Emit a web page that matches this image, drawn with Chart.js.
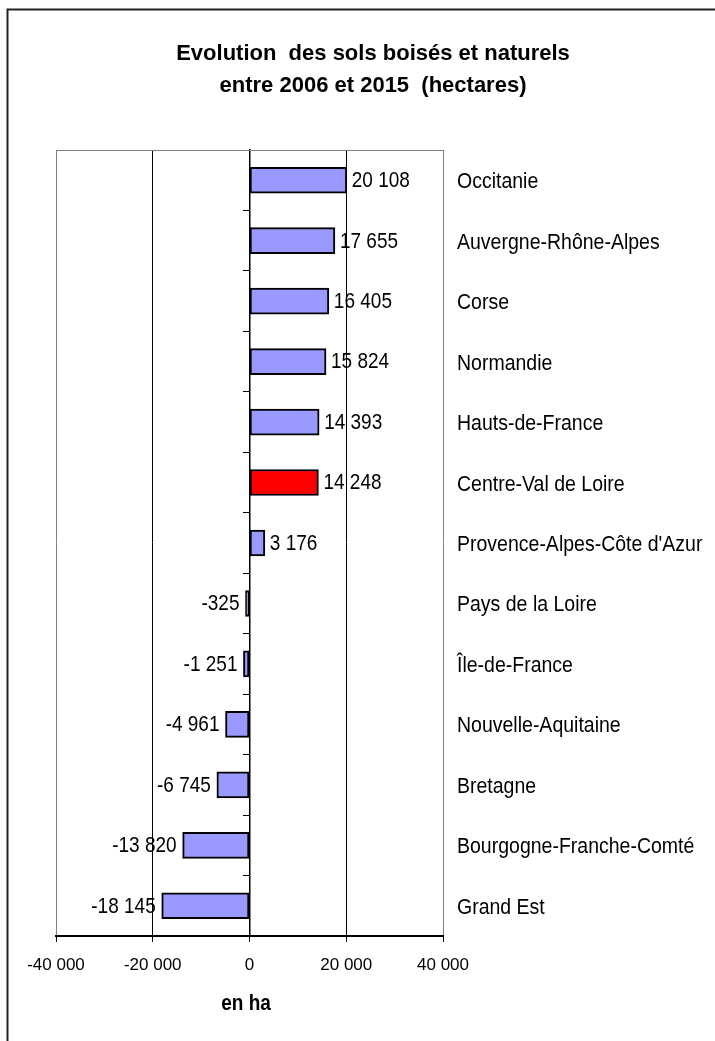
<!DOCTYPE html>
<html>
<head>
<meta charset="utf-8">
<script src="https://cdn.jsdelivr.net/npm/chart.js@4.4.1/dist/chart.umd.min.js"></script>
<style>
  html, body { margin: 0; padding: 0; background: #fff; }
  canvas { display: block; }
</style>
</head>
<body>
<canvas id="chart" width="715" height="1041"></canvas>
<script>
// data
const regions = ['Occitanie', 'Auvergne-Rhône-Alpes', 'Corse', 'Normandie', 'Hauts-de-France',
  'Centre-Val de Loire', "Provence-Alpes-Côte d'Azur", 'Pays de la Loire', 'Île-de-France',
  'Nouvelle-Aquitaine', 'Bretagne', 'Bourgogne-Franche-Comté', 'Grand Est'];
const values = [20108, 17655, 16405, 15824, 14393, 14248, 3176, -325, -1251, -4961, -6745, -13820, -18145];
const highlight = 'Centre-Val de Loire';
const xTicks = [-40000, -20000, 0, 20000, 40000];
const titleLines = ['Evolution  des sols boisés et naturels', 'entre 2006 et 2015  (hectares)'];
const xTitle = 'en ha';

const FONT = '"Liberation Sans", Arial, sans-serif';
const STRETCH = 1.12; // source text is a bit taller than Arial

function fmt(n) {
  const s = Math.abs(n).toString().replace(/\B(?=(\d{3})+(?!\d))/g, ' ');
  return (n < 0 ? '-' : '') + s;
}

function tallText(ctx, t, x, y) {
  ctx.save();
  ctx.translate(x, y);
  ctx.scale(1, STRETCH);
  ctx.fillText(t, 0, 0);
  ctx.restore();
}

const extras = {
  id: 'extras',
  beforeDatasetsDraw(chart) {
    const { ctx, chartArea: a } = chart;
    ctx.save();
    ctx.strokeStyle = '#808080';
    ctx.lineWidth = 1;
    ctx.beginPath();
    ctx.moveTo(a.left, a.top + 0.5);
    ctx.lineTo(a.right, a.top + 0.5);
    ctx.stroke();
    ctx.restore();
  },
  afterDatasetsDraw(chart) {
    const { ctx } = chart;
    const meta = chart.getDatasetMeta(0);
    ctx.save();
    ctx.fillStyle = '#000';
    ctx.textBaseline = 'middle';
    ctx.font = '19px ' + FONT;
    meta.data.forEach((el, i) => {
      const v = values[i];
      if (v >= 0) {
        ctx.textAlign = 'left';
        tallText(ctx, fmt(v), el.x + 5, el.y + 1);
      } else {
        ctx.textAlign = 'right';
        tallText(ctx, fmt(v), el.x - 6, el.y + 1);
      }
    });
    ctx.font = '19.5px ' + FONT;
    ctx.textAlign = 'left';
    meta.data.forEach((el, i) => {
      tallText(ctx, regions[i], 457, el.y + 2);
    });
    ctx.restore();
  },
  afterDraw(chart) {
    const { ctx } = chart;
    ctx.save();
    ctx.fillStyle = '#000';
    ctx.textAlign = 'center';
    ctx.textBaseline = 'middle';
    ctx.font = 'bold 22px ' + FONT;
    ctx.fillText(titleLines[0], 373, 54);
    ctx.fillText(titleLines[1], 373, 86);
    ctx.font = 'bold 19px ' + FONT;
    tallText(ctx, xTitle, 246, 1004);
    // outer frame (top and left edges only are visible)
    ctx.strokeStyle = '#222';
    ctx.lineWidth = 2;
    ctx.beginPath();
    ctx.moveTo(7.5, 1041);
    ctx.lineTo(7.5, 9.5);
    ctx.lineTo(715, 9.5);
    ctx.stroke();
    ctx.restore();
  }
};

const ctx = document.getElementById('chart').getContext('2d');
const chart = new Chart(ctx, {
  type: 'bar',
  data: {
    labels: regions,
    datasets: [{
      data: values,
      backgroundColor: regions.map(r => r === highlight ? '#FF0000' : '#9999FF'),
      borderColor: '#000',
      borderWidth: 2,
      borderSkipped: false,
      barThickness: 26,
      minBarLength: 4
    }]
  },
  options: {
    indexAxis: 'y',
    responsive: false,
    animation: false,
    devicePixelRatio: 1,
    layout: { padding: { top: 150, left: 56, right: 272, bottom: 0 } },
    plugins: { legend: { display: false }, tooltip: { enabled: false } },
    scales: {
      x: {
        min: -40000,
        max: 40000,
        afterBuildTicks: s => { s.ticks = xTicks.map(v => ({ value: v })); },
        afterFit: s => { s.height = 105; },
        grid: {
          color: c => (c.tick && Math.abs(c.tick.value) === 40000) ? '#808080' : '#000',
          tickColor: '#000',
          tickLength: 6,
          lineWidth: 1
        },
        border: { display: true, color: '#000', width: 2 },
        ticks: {
          color: '#000',
          font: { family: FONT, size: 17 },
          padding: 13,
          maxRotation: 0,
          callback: v => fmt(v)
        }
      },
      y: {
        type: 'category',
        position: { x: 0 },
        offset: true,
        grid: { offset: true, drawOnChartArea: false, tickLength: 6, color: '#000' },
        border: { display: true, color: '#000', width: 1.5 },
        ticks: { display: false }
      }
    }
  },
  plugins: [extras]
});
</script>
</body>
</html>
